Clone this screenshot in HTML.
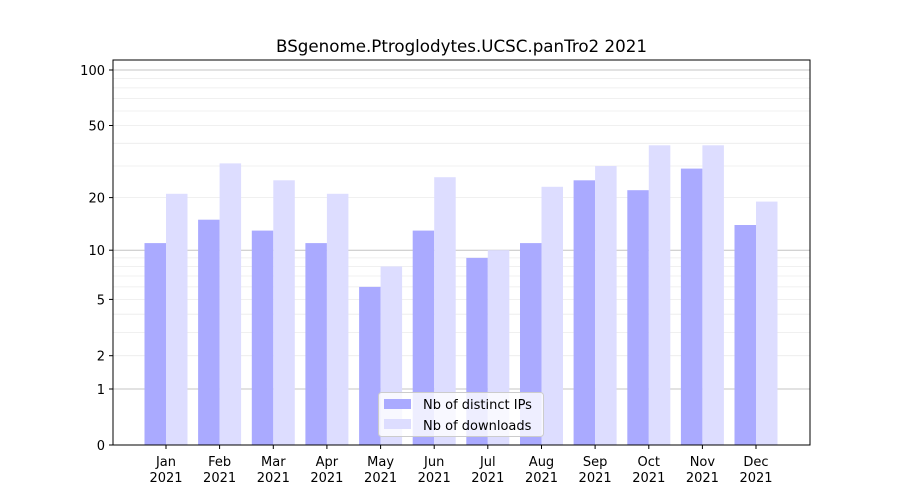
<!DOCTYPE html>
<html><head><meta charset="utf-8"><style>body{margin:0;background:#fff}svg{display:block}text{font-family:"DejaVu Sans","Liberation Sans",sans-serif;font-size:13px;fill:#000}</style></head>
<body>
<svg width="900" height="500" xmlns="http://www.w3.org/2000/svg">
<rect width="900" height="500" fill="#fff"/>
<g stroke="#ebebeb" stroke-width="0.8">
<line x1="113" x2="810" y1="355.7" y2="355.7"/><line x1="113" x2="810" y1="332.4" y2="332.4"/><line x1="113" x2="810" y1="314.2" y2="314.2"/><line x1="113" x2="810" y1="299.4" y2="299.4"/><line x1="113" x2="810" y1="286.9" y2="286.9"/><line x1="113" x2="810" y1="276" y2="276"/><line x1="113" x2="810" y1="266.5" y2="266.5"/><line x1="113" x2="810" y1="257.9" y2="257.9"/>
<line x1="113" x2="810" y1="197.6" y2="197.6"/><line x1="113" x2="810" y1="166" y2="166"/><line x1="113" x2="810" y1="143.3" y2="143.3"/><line x1="113" x2="810" y1="125.5" y2="125.5"/><line x1="113" x2="810" y1="111" y2="111"/><line x1="113" x2="810" y1="98.6" y2="98.6"/><line x1="113" x2="810" y1="87.9" y2="87.9"/><line x1="113" x2="810" y1="78.5" y2="78.5"/>
</g>
<g stroke="#c4c4c4" stroke-width="1"><line x1="113" x2="810" y1="389" y2="389"/><line x1="113" x2="810" y1="250.2" y2="250.2"/><line x1="113" x2="810" y1="70" y2="70"/></g>
<g fill="#aaaaff">
<rect x="144.5" y="243.1" width="21.5" height="201.9"/>
<rect x="198.1" y="219.7" width="21.5" height="225.3"/>
<rect x="251.8" y="230.6" width="21.5" height="214.4"/>
<rect x="305.4" y="243.1" width="21.5" height="201.9"/>
<rect x="359.1" y="286.9" width="21.5" height="158.1"/>
<rect x="412.7" y="230.6" width="21.5" height="214.4"/>
<rect x="466.3" y="257.9" width="21.5" height="187.1"/>
<rect x="520" y="243.1" width="21.5" height="201.9"/>
<rect x="573.6" y="180.3" width="21.5" height="264.7"/>
<rect x="627.3" y="190.2" width="21.5" height="254.8"/>
<rect x="680.9" y="168.6" width="21.5" height="276.4"/>
<rect x="734.5" y="225" width="21.5" height="220"/>
</g>
<g fill="#ddddff">
<rect x="166" y="193.8" width="21.5" height="251.2"/>
<rect x="219.6" y="163.4" width="21.5" height="281.6"/>
<rect x="273.3" y="180.3" width="21.5" height="264.7"/>
<rect x="326.9" y="193.8" width="21.5" height="251.2"/>
<rect x="380.6" y="266.5" width="21.5" height="178.5"/>
<rect x="434.2" y="177.2" width="21.5" height="267.8"/>
<rect x="487.8" y="250.2" width="21.5" height="194.8"/>
<rect x="541.5" y="186.8" width="21.5" height="258.2"/>
<rect x="595.1" y="166" width="21.5" height="279"/>
<rect x="648.8" y="145.3" width="21.5" height="299.7"/>
<rect x="702.4" y="145.3" width="21.5" height="299.7"/>
<rect x="756" y="201.6" width="21.5" height="243.4"/>
</g>
<rect x="113" y="60" width="697" height="385" fill="none" stroke="#000" stroke-width="1"/>
<g stroke="#000" stroke-width="1">
<line x1="109" x2="113" y1="445" y2="445"/><line x1="109" x2="113" y1="389" y2="389"/><line x1="109" x2="113" y1="355.7" y2="355.7"/><line x1="109" x2="113" y1="299.4" y2="299.4"/><line x1="109" x2="113" y1="250.2" y2="250.2"/><line x1="109" x2="113" y1="197.6" y2="197.6"/><line x1="109" x2="113" y1="125.5" y2="125.5"/><line x1="109" x2="113" y1="70" y2="70"/>
<line x1="166" x2="166" y1="445" y2="449"/><line x1="219.6" x2="219.6" y1="445" y2="449"/><line x1="273.3" x2="273.3" y1="445" y2="449"/><line x1="326.9" x2="326.9" y1="445" y2="449"/><line x1="380.6" x2="380.6" y1="445" y2="449"/><line x1="434.2" x2="434.2" y1="445" y2="449"/><line x1="487.8" x2="487.8" y1="445" y2="449"/><line x1="541.5" x2="541.5" y1="445" y2="449"/><line x1="595.1" x2="595.1" y1="445" y2="449"/><line x1="648.8" x2="648.8" y1="445" y2="449"/><line x1="702.4" x2="702.4" y1="445" y2="449"/><line x1="756" x2="756" y1="445" y2="449"/>
</g>
<g text-anchor="end">
<text x="105" y="450">0</text><text x="105" y="394">1</text><text x="105" y="360.5">2</text><text x="105" y="304.5">5</text><text x="105" y="255">10</text><text x="105" y="202.5">20</text><text x="105" y="130.5">50</text><text x="105" y="75">100</text>
</g>
<g text-anchor="middle">
<text x="166" y="466">Jan</text><text x="166" y="482">2021</text>
<text x="219.6" y="466">Feb</text><text x="219.6" y="482">2021</text>
<text x="273.3" y="466">Mar</text><text x="273.3" y="482">2021</text>
<text x="326.9" y="466">Apr</text><text x="326.9" y="482">2021</text>
<text x="380.6" y="466">May</text><text x="380.6" y="482">2021</text>
<text x="434.2" y="466">Jun</text><text x="434.2" y="482">2021</text>
<text x="487.8" y="466">Jul</text><text x="487.8" y="482">2021</text>
<text x="541.5" y="466">Aug</text><text x="541.5" y="482">2021</text>
<text x="595.1" y="466">Sep</text><text x="595.1" y="482">2021</text>
<text x="648.8" y="466">Oct</text><text x="648.8" y="482">2021</text>
<text x="702.4" y="466">Nov</text><text x="702.4" y="482">2021</text>
<text x="756" y="466">Dec</text><text x="756" y="482">2021</text>
<text x="461.5" y="52" style="font-size:16.7px">BSgenome.Ptroglodytes.UCSC.panTro2 2021</text>
</g>
<rect x="378.5" y="392.5" width="165" height="44" rx="3" fill="#fff" fill-opacity="0.8" stroke="#cccccc"/>
<rect x="384" y="399" width="27" height="10" fill="#aaaaff"/>
<rect x="384" y="419" width="27" height="10" fill="#ddddff"/>
<text x="423" y="409">Nb of distinct IPs</text>
<text x="423" y="430">Nb of downloads</text>
</svg>
</body></html>
